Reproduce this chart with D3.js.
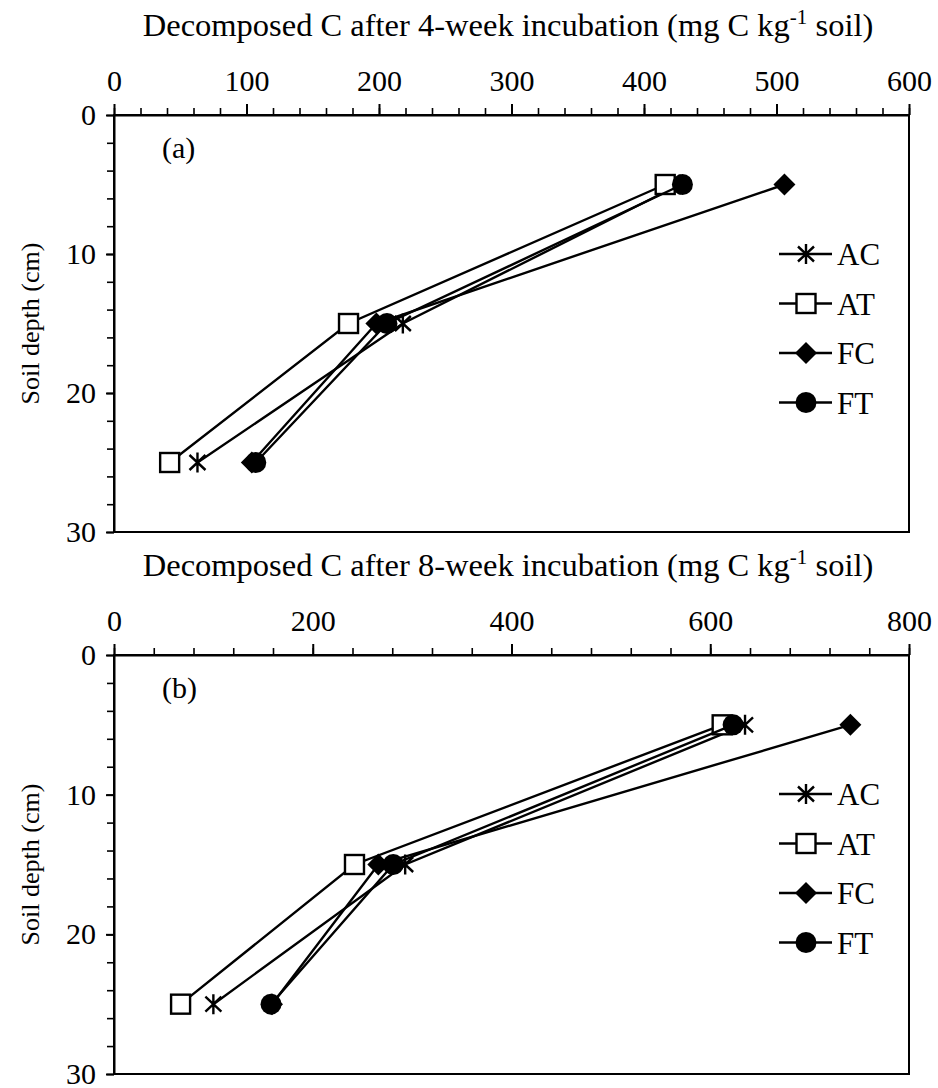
<!DOCTYPE html>
<html>
<head>
<meta charset="utf-8">
<script src="https://cdn.jsdelivr.net/npm/d3@7"></script>
<style>
  html, body { margin: 0; padding: 0; background: #fff; }
  svg { display: block; }
  text { font-family: "Liberation Serif", "Times New Roman", serif; fill: #000; }
</style>
</head>
<body>
<svg id="chart" width="938" height="1088"></svg>
<script>
// Soil depths (cm) of the sampled layers
const depths = [5, 15, 25];
const treatments = ["AC", "AT", "FC", "FT"];

// Decomposed C after 4-week incubation (mg C kg-1 soil), by depth
const week4AC = [427, 218, 63];
const week4AT = [416, 177, 42];
const week4FC = [506, 198, 104];
const week4FT = [429, 206, 107];

// Decomposed C after 8-week incubation (mg C kg-1 soil), by depth
const week8AC = [635, 293, 100];
const week8AT = [612, 242, 67];
const week8FC = [741, 266, 159];
const week8FT = [623, 281, 158];

// Axis tick values
const xTicks4 = [0, 100, 200, 300, 400, 500, 600];
const xTicks8 = [0, 200, 400, 600, 800];
const yTicks = [0, 10, 20, 30];

const svg = d3.select("#chart");
const left = 114, right = 909;

const panels = [
  { top: 115, bottom: 532, xMax: 600, ticks: xTicks4, minorStep: 20, weeks: 4, tag: "(a)",
    values: { AC: week4AC, AT: week4AT, FC: week4FC, FT: week4FT } },
  { top: 655, bottom: 1074, xMax: 800, ticks: xTicks8, minorStep: 40, weeks: 8, tag: "(b)",
    values: { AC: week8AC, AT: week8AT, FC: week8FC, FT: week8FT } }
];

// Marker shapes, centred at the origin
function drawMarker(g, kind) {
  if (kind === "AC") {
    g.append("path").attr("d", "M0,-10V10M-8,-7.5L8,7.5M-8,7.5L8,-7.5")
      .attr("stroke", "#000").attr("stroke-width", 2.4).attr("fill", "none");
  } else if (kind === "AT") {
    g.append("rect").attr("x", -9.5).attr("y", -9.5).attr("width", 19).attr("height", 19)
      .attr("fill", "#fff").attr("stroke", "#000").attr("stroke-width", 2.4);
  } else if (kind === "FC") {
    g.append("path").attr("d", "M0,-11L11,0L0,11L-11,0Z").attr("fill", "#000");
  } else {
    g.append("circle").attr("r", 10.5).attr("fill", "#000");
  }
}

panels.forEach(p => {
  const x = d3.scaleLinear().domain([0, p.xMax]).range([left, right]);
  const y = d3.scaleLinear().domain([0, 30]).range([p.top, p.bottom]);
  const g = svg.append("g");

  // Frame (right and bottom edges)
  g.append("rect").attr("x", left).attr("y", p.top)
    .attr("width", right - left).attr("height", p.bottom - p.top)
    .attr("fill", "none").attr("stroke", "#000").attr("stroke-width", 2);

  // Minor ticks on the top axis
  const minorX = d3.range(0, p.xMax + 1, p.minorStep);
  g.append("g").attr("transform", `translate(0,${p.top})`)
    .call(d3.axisTop(x).tickValues(minorX).tickSize(7).tickSizeOuter(0).tickFormat(""))
    .call(a => a.select(".domain").remove())
    .call(a => a.selectAll("line").attr("stroke-width", 1.6));
  // Major ticks and labels on the top axis
  g.append("g").attr("transform", `translate(0,${p.top})`)
    .call(d3.axisTop(x).tickValues(p.ticks).tickSize(11).tickSizeOuter(0).tickPadding(13))
    .call(a => a.select(".domain").attr("stroke-width", 2))
    .call(a => a.selectAll("line").attr("stroke-width", 2))
    .call(a => a.selectAll("text").attr("font-size", 30)
      .attr("font-family", "'Liberation Serif', 'Times New Roman', serif"));

  // Minor ticks on the depth axis
  g.append("g").attr("transform", `translate(${left},0)`)
    .call(d3.axisLeft(y).tickValues(d3.range(0, 31, 2)).tickSize(7).tickSizeOuter(0).tickFormat(""))
    .call(a => a.select(".domain").remove())
    .call(a => a.selectAll("line").attr("stroke-width", 1.6));
  // Major ticks and labels on the depth axis
  g.append("g").attr("transform", `translate(${left},0)`)
    .call(d3.axisLeft(y).tickValues(yTicks).tickSize(8).tickSizeOuter(0).tickPadding(10))
    .call(a => a.select(".domain").attr("stroke-width", 2))
    .call(a => a.selectAll("line").attr("stroke-width", 2))
    .call(a => a.selectAll("text").attr("font-size", 30)
      .attr("font-family", "'Liberation Serif', 'Times New Roman', serif"));

  // Axis titles
  const title = g.append("text").attr("x", 508).attr("y", p.top - 79)
    .attr("text-anchor", "middle").attr("font-size", 32.5);
  title.append("tspan").text(`Decomposed C after ${p.weeks}-week incubation (mg C kg`);
  title.append("tspan").attr("font-size", 21).attr("dy", -12).text("-1");
  title.append("tspan").attr("dy", 12).text(" soil)");

  g.append("text")
    .attr("transform", `translate(39,${(p.top + p.bottom) / 2}) rotate(-90)`)
    .attr("text-anchor", "middle").attr("font-size", 26).text("Soil depth (cm)");

  // Panel tag
  g.append("text").attr("x", 162).attr("y", p.top + 43).attr("font-size", 30).text(p.tag);

  // Series lines and markers
  const line = d3.line().x(d => x(d[0])).y(d => y(d[1]));
  treatments.forEach(t => {
    const pts = depths.map((dep, i) => [p.values[t][i], dep]);
    g.append("path").datum(pts).attr("d", line)
      .attr("fill", "none").attr("stroke", "#000").attr("stroke-width", 2.4);
    pts.forEach(pt => {
      const m = g.append("g").attr("transform", `translate(${x(pt[0])},${y(pt[1])})`);
      drawMarker(m, t);
    });
  });

  // Legend
  const legend = g.append("g").attr("transform", `translate(0,${p.top + 139})`);
  treatments.forEach((t, i) => {
    const row = legend.append("g").attr("transform", `translate(806,${i * 49.5})`);
    row.append("line").attr("x1", -27).attr("x2", 26).attr("stroke", "#000").attr("stroke-width", 2.4);
    drawMarker(row, t);
    row.append("text").attr("x", 31).attr("y", 11).attr("font-size", 31).text(t);
  });
});
</script>
</body>
</html>
